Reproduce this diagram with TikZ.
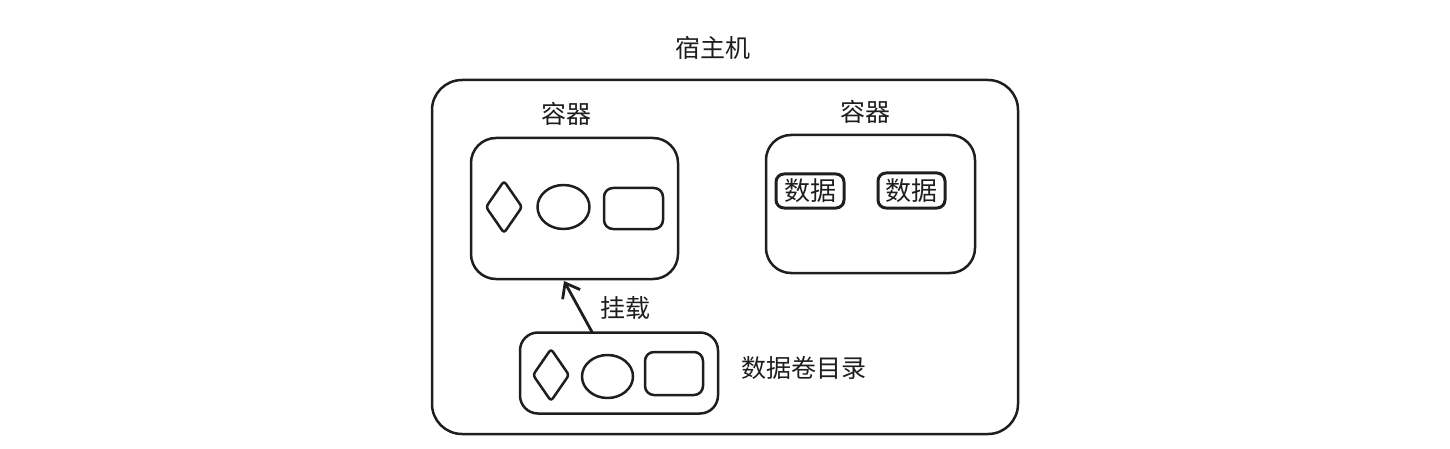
\documentclass[tikz,border=0pt]{standalone}
\usepackage{fontspec}
\setmainfont{Noto Sans CJK SC}
\usetikzlibrary{shapes.geometric,arrows.meta}
\definecolor{ink}{HTML}{1E1E1E}
\tikzset{
  sk/.style={draw=ink, line width=2.5pt, line join=round, line cap=round},
  box/.style={sk, rectangle, inner sep=0pt},
  lbl/.style={text=ink, font=\fontsize{25}{29}\selectfont, inner sep=0pt},
}
\begin{document}
\begin{tikzpicture}[x=1pt,y=-1pt]
\useasboundingbox (0,0) rectangle (1450,449);
% host
\node[lbl] (hostlbl) at (713,48) {宿主机};
\node[box, rounded corners=30pt, minimum width=586pt, minimum height=354pt] (host) at (725,257) {};
% left container
\node[lbl] (c1lbl) at (566,114) {容器};
\node[box, rounded corners=25pt, minimum width=207pt, minimum height=141pt] (c1) at (574.5,208.5) {};
\node[sk, diamond, inner sep=0pt, rounded corners=3pt, minimum width=37pt, minimum height=53pt] (d1) at (504,207) {};
\node[sk, ellipse, inner sep=0pt, minimum width=52pt, minimum height=44pt] (e1) at (563.5,207) {};
\node[box, rounded corners=9pt, minimum width=59pt, minimum height=41pt] (r1) at (633.5,208.5) {};
% right container
\node[lbl] (c2lbl) at (865,112) {容器};
\node[box, rounded corners=8pt, minimum width=209pt, minimum height=138pt, rounded corners=25pt] (c2) at (870.5,204) {};
\node[box, rounded corners=8pt, minimum width=68pt, minimum height=34pt, line width=3pt] (data1) at (810,191) {};
\node[lbl, font=\fontsize{26}{30}\selectfont] at (data1) {数据};
\node[box, rounded corners=8pt, minimum width=67pt, minimum height=35pt, line width=3pt] (data2) at (911.5,190.5) {};
\node[lbl, font=\fontsize{26}{30}\selectfont] at (data2) {数据};
% mount directory
\node[box, rounded corners=18pt, minimum width=198pt, minimum height=81pt] (vol) at (619,373) {};
\node[sk, diamond, inner sep=0pt, rounded corners=3pt, minimum width=37pt, minimum height=53pt] (d2) at (551,375) {};
\node[sk, ellipse, inner sep=0pt, minimum width=51pt, minimum height=43pt] (e2) at (607.5,376.5) {};
\node[box, rounded corners=9pt, minimum width=58pt, minimum height=43pt] (r2) at (674,373.5) {};
\node[lbl, anchor=west] (vollbl) at (741,368) {数据卷目录};
% arrow
\coordinate (as) at (592,332);
\coordinate (ae) at (564,281);
\draw[sk, line width=2.8pt, -{Straight Barb[length=13pt, width=20pt, line width=2.8pt]}] (as) -- (ae);
\node[lbl] (mountlbl) at (625,308) {挂载};
\end{tikzpicture}
\end{document}
